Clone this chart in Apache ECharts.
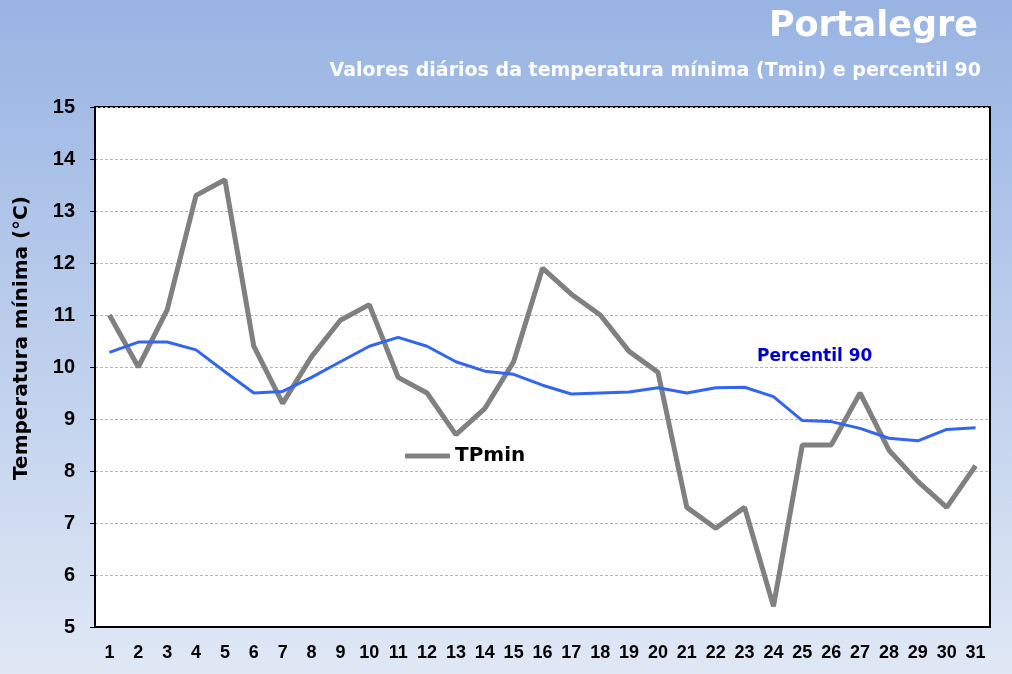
<!DOCTYPE html>
<html>
<head>
<meta charset="utf-8">
<script src="https://cdn.jsdelivr.net/npm/echarts@6/dist/echarts.min.js"></script>
<style>
  html, body { margin: 0; padding: 0; }
  #chart { width: 1012px; height: 674px; }
</style>
</head>
<body>
<div id="chart"></div>
<script>
const days = ['1','2','3','4','5','6','7','8','9','10','11','12','13','14','15','16','17','18','19','20','21','22','23','24','25','26','27','28','29','30','31'];
const tpmin = [11.0, 10.0, 11.1, 13.3, 13.6, 10.4, 9.3, 10.2, 10.9, 11.2, 9.8, 9.5, 8.7, 9.2, 10.1, 11.9, 11.4, 11.0, 10.3, 9.9, 7.3, 6.9, 7.3, 5.4, 8.5, 8.5, 9.5, 8.4, 7.8, 7.3, 8.1];
const p90 = [10.28, 10.48, 10.48, 10.33, 9.91, 9.5, 9.53, 9.8, 10.1, 10.4, 10.57, 10.4, 10.1, 9.92, 9.86, 9.65, 9.48, 9.5, 9.52, 9.6, 9.5, 9.6, 9.61, 9.43, 8.97, 8.95, 8.82, 8.63, 8.58, 8.8, 8.83];

const wide = '"DejaVu Sans", Verdana, sans-serif';
const arial = 'Arial, "Liberation Sans", sans-serif';

const chart = echarts.init(document.getElementById('chart'));

const options = {
    backgroundColor: new echarts.graphic.LinearGradient(0, 0, 0, 1, [
        { offset: 0, color: '#98b4e3' },
        { offset: 1, color: '#e0e8f5' }
    ]),
    animation: false,
    textStyle: { fontFamily: arial },
    title: [
        {
            text: 'Portalegre',
            right: 29,
            top: 4,
            textStyle: { color: '#ffffff', fontSize: 35, fontWeight: 'bold', fontFamily: wide }
        },
        {
            text: 'Valores diários da temperatura mínima (Tmin) e percentil 90',
            right: 26,
            top: 57,
            textStyle: { color: '#ffffff', fontSize: 19, fontWeight: 'bold', fontFamily: wide }
        }
    ],
    legend: {
        data: [{ name: 'TPmin', icon: 'roundRect' }],
        left: 400,
        top: 441,
        itemWidth: 45,
        itemHeight: 5,
        textStyle: { color: '#000', fontSize: 20, fontWeight: 'bold', fontFamily: wide }
    },
    graphic: [
        {
            type: 'text',
            left: 757,
            top: 348,
            style: { text: 'Percentil 90', fill: '#0000cc', font: 'bold 17px ' + wide }
        }
    ],
    grid: {
        left: 95,
        right: 22,
        top: 107,
        bottom: 47,
        show: true,
        backgroundColor: '#ffffff',
        borderColor: '#000',
        borderWidth: 2
    },
    xAxis: {
        type: 'category',
        data: days,
        boundaryGap: true,
        axisLine: { lineStyle: { color: '#000', width: 2 } },
        axisTick: { inside: true, length: 5, lineStyle: { color: '#000' } },
        axisLabel: { color: '#000', fontSize: 18, fontWeight: 'bold', fontFamily: arial, margin: 17, interval: 0 }
    },
    yAxis: {
        type: 'value',
        min: 5,
        max: 15,
        interval: 1,
        name: 'Temperatura mínima (°C)',
        nameLocation: 'middle',
        nameGap: 63,
        nameTextStyle: { color: '#000', fontSize: 20, fontWeight: 'bold', fontFamily: wide, padding: [0, 0, 0, 58] },
        axisLine: { show: true, lineStyle: { color: '#000', width: 2 } },
        axisTick: { show: true, length: 5, lineStyle: { color: '#000' } },
        axisLabel: { color: '#000', fontSize: 20, fontWeight: 'bold', fontFamily: arial, margin: 20 },
        splitLine: { lineStyle: { color: '#a8b8cc', type: [3, 2], width: 1 } }
    },
    series: [
        {
            name: 'TPmin',
            type: 'line',
            data: tpmin,
            symbol: 'none',
            lineStyle: { color: '#808080', width: 5 },
            itemStyle: { color: '#808080' },
            z: 2
        },
        {
            name: 'Percentil 90',
            type: 'line',
            data: p90,
            symbol: 'none',
            lineStyle: { color: '#3366ee', width: 3 },
            itemStyle: { color: '#3366ee' },
            z: 3
        }
    ]
};

chart.setOption(options);
</script>
</body>
</html>
